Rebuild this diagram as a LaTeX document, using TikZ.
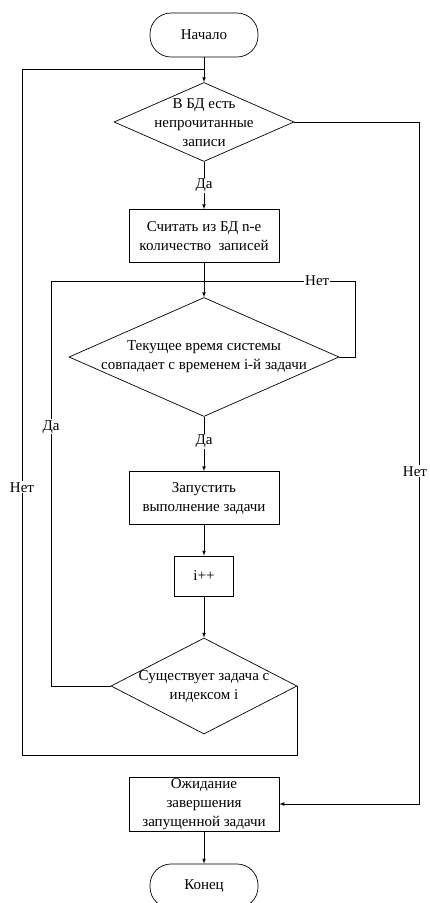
\documentclass[tikz,border=0pt]{standalone}
\usepackage{fontspec}
\setmainfont{Liberation Serif}
\usetikzlibrary{shapes.geometric}

\tikzset{
  term/.style={shape=rectangle,draw=black,rounded corners=21pt,minimum width=108pt,minimum height=44pt},
  proc/.style={shape=rectangle,draw=black,minimum width=150pt,minimum height=53pt,align=center,inner sep=2pt},
  cond/.style={shape=diamond,draw=black,inner sep=0pt},
  lbl/.style={fill=white,inner sep=1pt}
}

\begin{document}
\begin{tikzpicture}[x=1pt,y=-1pt,line width=0.7pt,>=latex,font=\fontsize{15}{19}\selectfont]
        \useasboundingbox (0,0) rectangle (429,903);
        \node[term] (start) at (204,35) {Начало};
        \node[cond,minimum width=180pt,minimum height=79pt,
              label={[align=center,yshift=-1pt]center:В БД есть\\непрочитанные\\записи}] (check) at (204,122) {};
        \node[proc] (read) at (204,236) {Считать из БД n-е\\количество\ \ записей};
        \node[cond,minimum width=270pt,minimum height=119pt,
              label={[align=center]center:Текущее время системы\\совпадает с временем i-й задачи}] (time) at (204,357) {};
        \node[proc] (run) at (204,498) {Запустить\\выполнение задачи};
        \node[proc,minimum width=59pt,minimum height=40pt] (inc) at (204,576) {i++};
        \node[cond,minimum width=186pt,minimum height=96pt,
              label={[align=center]center:Существует задача с\\индексом i}] (next) at (204,686) {};
        \node[proc,minimum height=54pt,inner sep=0pt] (wait) at (204,804) {Ожидание\\завершения\\запущенной задачи};
        \node[term] (stop) at (204,886) {Конец};

        \coordinate (j1) at (204,69);
        \coordinate (j2) at (204,281);

        %main line
        \path (start) edge (j1);
        \path[->] (j1) edge (check);
        \path[->] (check) edge node[lbl] {Да} (read);
        \path (read) edge (j2);
        \path[->] (j2) edge (time);
        \path[->] (time) edge node[lbl,pos=0.45] {Да} (run);
        \path[->] (run) edge (inc);
        \path[->] (inc) edge (next);
        \path[->] (wait) edge (stop);

        %loops back
        \draw (time.east) -- (355,357) |- node[lbl,pos=0.625] {Нет} (j2);
        \draw (next.west) -| node[lbl,pos=0.82] {Да} (51,281) -- (j2);
        \draw (next.east) |- (22,755) |- node[lbl,pos=0.195] {Нет} (j1);
        \draw[->] (check.east) -| node[lbl,pos=0.756,xshift=-4pt] {Нет} (419,804) -- (wait.east);
\end{tikzpicture}
\end{document}
